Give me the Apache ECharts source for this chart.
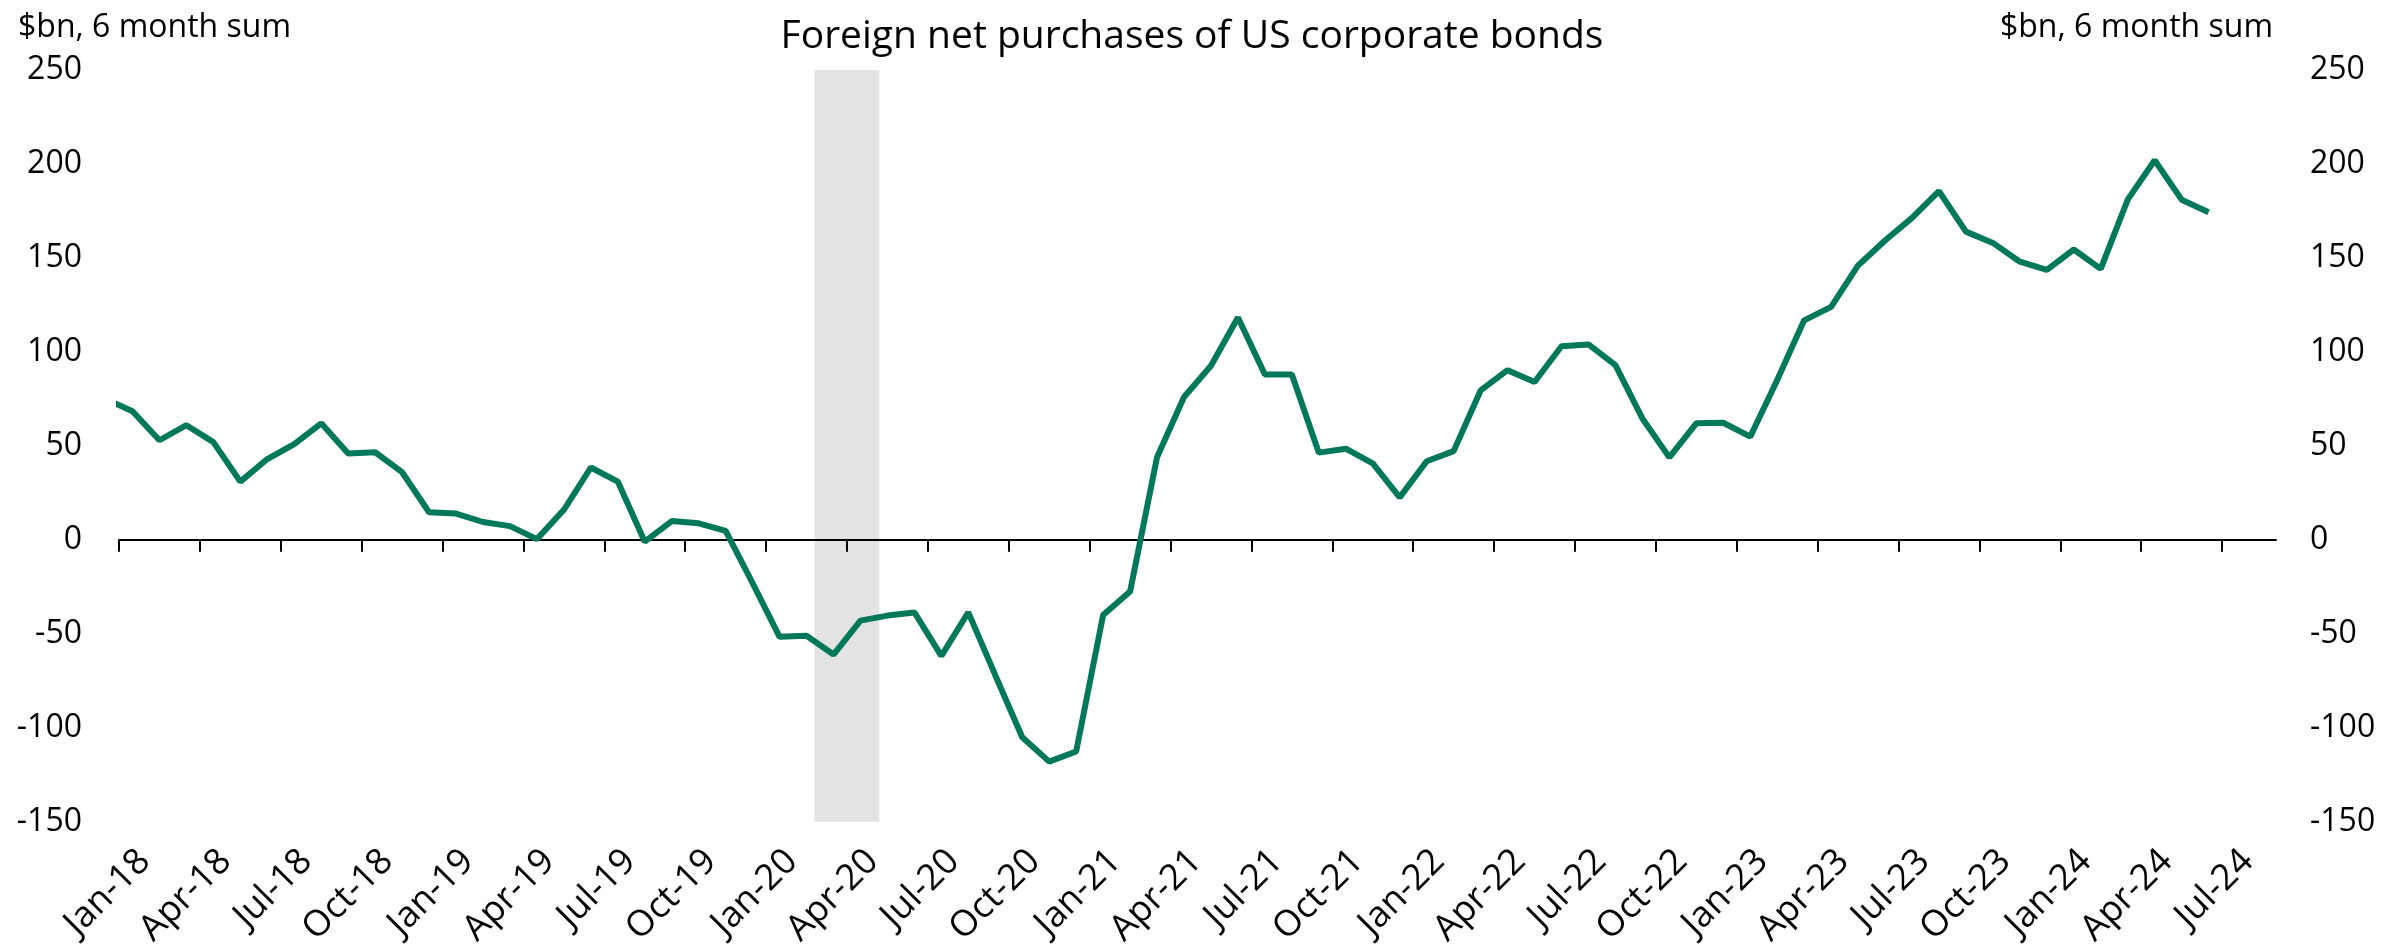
<!DOCTYPE html>
<html>
<head>
<meta charset="utf-8">
<script src="https://cdn.jsdelivr.net/npm/echarts@6/dist/echarts.min.js"></script>
<style>
  html, body { margin: 0; padding: 0; background: #fff; }
  #chart { width: 2384px; height: 950px; }
</style>
</head>
<body>
<div id="chart"></div>
<script>
// monthly values, $bn 6 month sum, Dec-17 .. Jun-24 (Dec-17 is cut off by the axis start)
const firstMonth = -1; // Dec-17, counted in months from Jan-18
const values = [
  75,
  68.4, 53, 61, 52, 31, 43, 51, 62, 46, 46.6, 36, 14.7,
  14, 9.5, 7.3, 0.4, 16, 38.5, 31, -1, 10, 8.8, 4.8, -23,
  -51.6, -51, -61, -43, -40.3, -38.6, -61.7, -38.6, -72, -105, -118, -112.6,
  -40, -27.5, 44, 76, 92.6, 118.3, 88, 88, 46.4, 48.5, 40.7, 22.6,
  41.8, 47.2, 79.5, 90.3, 84, 103, 104, 93, 64.6, 43.9, 62, 62.3,
  54.9, 85, 116.8, 124, 146, 159.3, 171.3, 185.5, 164, 158, 148, 143.7,
  154.5, 144.2, 181, 202, 181, 174.3
];
const tickLabels = [
  'Jan-18', 'Apr-18', 'Jul-18', 'Oct-18', 'Jan-19', 'Apr-19', 'Jul-19', 'Oct-19',
  'Jan-20', 'Apr-20', 'Jul-20', 'Oct-20', 'Jan-21', 'Apr-21', 'Jul-21', 'Oct-21',
  'Jan-22', 'Apr-22', 'Jul-22', 'Oct-22', 'Jan-23', 'Apr-23', 'Jul-23', 'Oct-23',
  'Jan-24', 'Apr-24', 'Jul-24'
];
const recession = [25.8, 28.2]; // Feb-20 .. Apr-20, in months from Jan-18

const font = 'Open Sans';
const monthsShown = 80;
const labelShift = 0.95;

const lineData = values.map((v, i) => [i + firstMonth + 0.5, v]);
const tickValues = tickLabels.map((t, i) => i * 3);

const chart = echarts.init(document.getElementById('chart'));
chart.setOption({
  animation: false,
  title: [
    {
      text: 'Foreign net purchases of US corporate bonds',
      left: 'center',
      top: 12,
      textStyle: { fontFamily: font, fontSize: 39, fontWeight: 'normal', color: '#000' }
    },
    {
      text: '$bn, 6 month sum',
      left: 13,
      top: 7,
      textStyle: { fontFamily: font, fontSize: 32, fontWeight: 'normal', color: '#000' }
    },
    {
      text: '$bn, 6 month sum',
      right: 106,
      top: 7,
      textStyle: { fontFamily: font, fontSize: 32, fontWeight: 'normal', color: '#000' }
    }
  ],
  grid: { left: 119, right: 108, top: 70, bottom: 128 },
  xAxis: [
    {
      type: 'value',
      min: 0,
      max: monthsShown,
      z: 2,
      axisLine: { onZero: true, lineStyle: { color: '#000', width: 2 } },
      axisTick: { customValues: tickValues, length: 12, lineStyle: { color: '#000', width: 2 } },
      axisLabel: { show: false },
      splitLine: { show: false }
    },
    {
      type: 'value',
      min: -labelShift,
      max: monthsShown - labelShift,
      position: 'bottom',
      axisLine: { show: false, onZero: false },
      axisTick: { show: false },
      splitLine: { show: false },
      axisLabel: {
        customValues: tickValues,
        rotate: 45,
        margin: 34,
        fontFamily: font,
        fontSize: 36,
        color: '#000',
        formatter: v => tickLabels[Math.round(v / 3)] || ''
      }
    }
  ],
  yAxis: [
    {
      type: 'value',
      min: -150,
      max: 250,
      interval: 50,
      position: 'left',
      axisLine: { show: false },
      axisTick: { show: false },
      splitLine: { show: false },
      axisLabel: { margin: 37, fontFamily: font, fontSize: 32, color: '#000' }
    },
    {
      type: 'value',
      min: -150,
      max: 250,
      interval: 50,
      position: 'right',
      axisLine: { show: false },
      axisTick: { show: false },
      splitLine: { show: false },
      axisLabel: { margin: 34, fontFamily: font, fontSize: 32, color: '#000' }
    }
  ],
  series: [
    {
      type: 'line',
      xAxisIndex: 0,
      yAxisIndex: 0,
      z: 3,
      data: lineData,
      showSymbol: false,
      clip: true,
      lineStyle: { color: '#00785A', width: 6 },
      itemStyle: { color: '#00785A' },
      markArea: {
        silent: true,
        z: 1,
        itemStyle: { color: '#E3E3E3' },
        data: [[{ xAxis: recession[0] }, { xAxis: recession[1] }]]
      }
    }
  ]
});
</script>
</body>
</html>
